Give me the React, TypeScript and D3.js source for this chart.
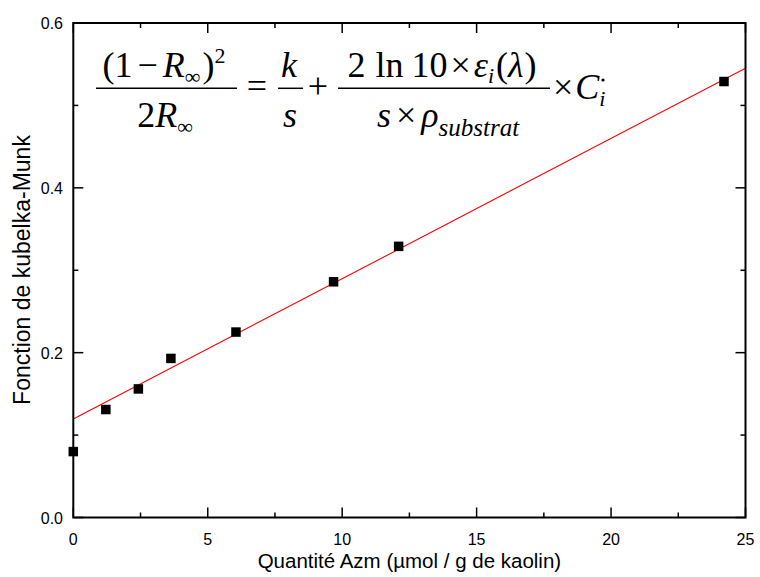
import React from "react";
import * as d3 from "d3";

const quantities = [0, 1.21, 2.42, 3.63, 6.05, 9.68, 12.1, 24.2];
const kmValues = [0.08, 0.131, 0.156, 0.193, 0.225, 0.286, 0.329, 0.529];
const fitIntercept = 0.1195;
const fitSlope = 0.01702;
const xTicks = [0, 5, 10, 15, 20, 25];
const xMinorTicks = [2.5, 7.5, 12.5, 17.5, 22.5];
const yTicks = [0, 0.2, 0.4, 0.6];
const yMinorTicks = [0.1, 0.3, 0.5];
const xTitle = "Quantité Azm (µmol / g de kaolin)";
const yTitle = "Fonction de kubelka-Munk";

const W = 760;
const H = 577;
const L = 73.3, R = 745.5, T = 23, B = 517.5;

export default function App() {
  const x = d3.scaleLinear().domain([0, 25]).range([L, R]);
  const y = d3.scaleLinear().domain([0, 0.6]).range([B, T]);
  const fitX = [0, 25];
  const line = d3
    .line<number>()
    .x((d) => x(d))
    .y((d) => y(fitIntercept + fitSlope * d));
  const sans = "'Liberation Sans', Arial, sans-serif";
  const serif = "'Liberation Serif', 'Times New Roman', serif";
  const ms = 9.5;
  const eqSize = 36;
  const subSize = 22;
  return (
    <svg
      width={W}
      height={H}
      style={{ position: "absolute", left: 0, top: 0, background: "#fff" }}
    >
      <rect x={0} y={0} width={W} height={H} fill="#fff" />
      {/* fit line */}
      <path d={line(fitX) || ""} stroke="#ff0000" strokeWidth={1.1} fill="none" />
      {/* points */}
      {quantities.map((q, i) => (
        <rect
          key={i}
          x={x(q) - ms / 2}
          y={y(kmValues[i]) - ms / 2}
          width={ms}
          height={ms}
          fill="#000"
        />
      ))}
      {/* frame */}
      <rect x={L} y={T} width={R - L} height={B - T} fill="none" stroke="#000" strokeWidth={2} />
      {/* x ticks */}
      {xTicks.map((t) => (
        <g key={"xt" + t}>
          <line x1={x(t)} x2={x(t)} y1={B} y2={B - 10} stroke="#000" strokeWidth={1.5} />
          <line x1={x(t)} x2={x(t)} y1={T} y2={T + 10} stroke="#000" strokeWidth={1.5} />
          <text x={x(t)} y={545} textAnchor="middle" fontFamily={sans} fontSize={16}>
            {d3.format("d")(t)}
          </text>
        </g>
      ))}
      {xMinorTicks.map((t) => (
        <g key={"xm" + t}>
          <line x1={x(t)} x2={x(t)} y1={B} y2={B - 5} stroke="#000" strokeWidth={1.5} />
          <line x1={x(t)} x2={x(t)} y1={T} y2={T + 5} stroke="#000" strokeWidth={1.5} />
        </g>
      ))}
      {yTicks.map((t) => (
        <g key={"yt" + t}>
          <line x1={L} x2={L + 10} y1={y(t)} y2={y(t)} stroke="#000" strokeWidth={1.5} />
          <line x1={R} x2={R - 10} y1={y(t)} y2={y(t)} stroke="#000" strokeWidth={1.5} />
          <text x={63} y={y(t) + 6} textAnchor="end" fontFamily={sans} fontSize={16}>
            {d3.format(".1f")(t)}
          </text>
        </g>
      ))}
      {yMinorTicks.map((t) => (
        <g key={"ym" + t}>
          <line x1={L} x2={L + 5} y1={y(t)} y2={y(t)} stroke="#000" strokeWidth={1.5} />
          <line x1={R} x2={R - 5} y1={y(t)} y2={y(t)} stroke="#000" strokeWidth={1.5} />
        </g>
      ))}
      {/* titles */}
      <text x={(L + R) / 2} y={568} textAnchor="middle" fontFamily={sans} fontSize={20.5}>
        {xTitle}
      </text>
      <text
        transform={`translate(30, 270) rotate(-90)`}
        textAnchor="middle"
        fontFamily={sans}
        fontSize={23}
      >
        {yTitle}
      </text>
      {/* equation */}
      <g fontFamily={serif} fontSize={eqSize} fill="#000">
        <text x={164} y={77} textAnchor="middle">
          <tspan>(1</tspan>
          <tspan dx={5}>−</tspan>
          <tspan dx={5} fontStyle="italic">R</tspan>
          <tspan fontSize={subSize} dy={7}>∞</tspan>
          <tspan dy={-7} dx={2}>)</tspan>
          <tspan fontSize={subSize} dy={-14}>2</tspan>
        </text>
        <line x1={96} x2={237} y1={88.3} y2={88.3} stroke="#000" strokeWidth={1.5} />
        <text x={165} y={127} textAnchor="middle">
          <tspan>2</tspan>
          <tspan fontStyle="italic">R</tspan>
          <tspan fontSize={subSize} dy={7}>∞</tspan>
        </text>
        <text x={257} y={98} textAnchor="middle">=</text>
        <text x={289} y={77} textAnchor="middle" fontStyle="italic">k</text>
        <line x1={278} x2={303} y1={88.3} y2={88.3} stroke="#000" strokeWidth={1.5} />
        <text x={290} y={127} textAnchor="middle" fontStyle="italic">s</text>
        <text x={318} y={98} textAnchor="middle">+</text>
        <text x={442} y={77} textAnchor="middle">
          <tspan>2</tspan>
          <tspan dx={10}>ln</tspan>
          <tspan dx={8}>10</tspan>
          <tspan dx={3}>×</tspan>
          <tspan dx={3} fontStyle="italic">ε</tspan>
          <tspan fontStyle="italic" fontSize={subSize} dy={6}>i</tspan>
          <tspan dy={-6} dx={2}>(</tspan>
          <tspan fontStyle="italic">λ</tspan>
          <tspan dx={1}>)</tspan>
        </text>
        <line x1={338} x2={550} y1={88.3} y2={88.3} stroke="#000" strokeWidth={1.5} />
        <text x={448} y={127} textAnchor="middle">
          <tspan fontStyle="italic">s</tspan>
          <tspan dx={5}>×</tspan>
          <tspan dx={5} fontStyle="italic">ρ</tspan>
          <tspan fontStyle="italic" fontSize={25} dy={9}>substrat</tspan>
        </text>
        <text x={553} y={99}>
          <tspan>×</tspan>
          <tspan dx={2} fontStyle="italic">C</tspan>
          <tspan fontStyle="italic" fontSize={subSize} dy={7}>i</tspan>
        </text>
        <circle cx={603} cy={80} r={1.6} fill="#000" />
      </g>
    </svg>
  );
}
